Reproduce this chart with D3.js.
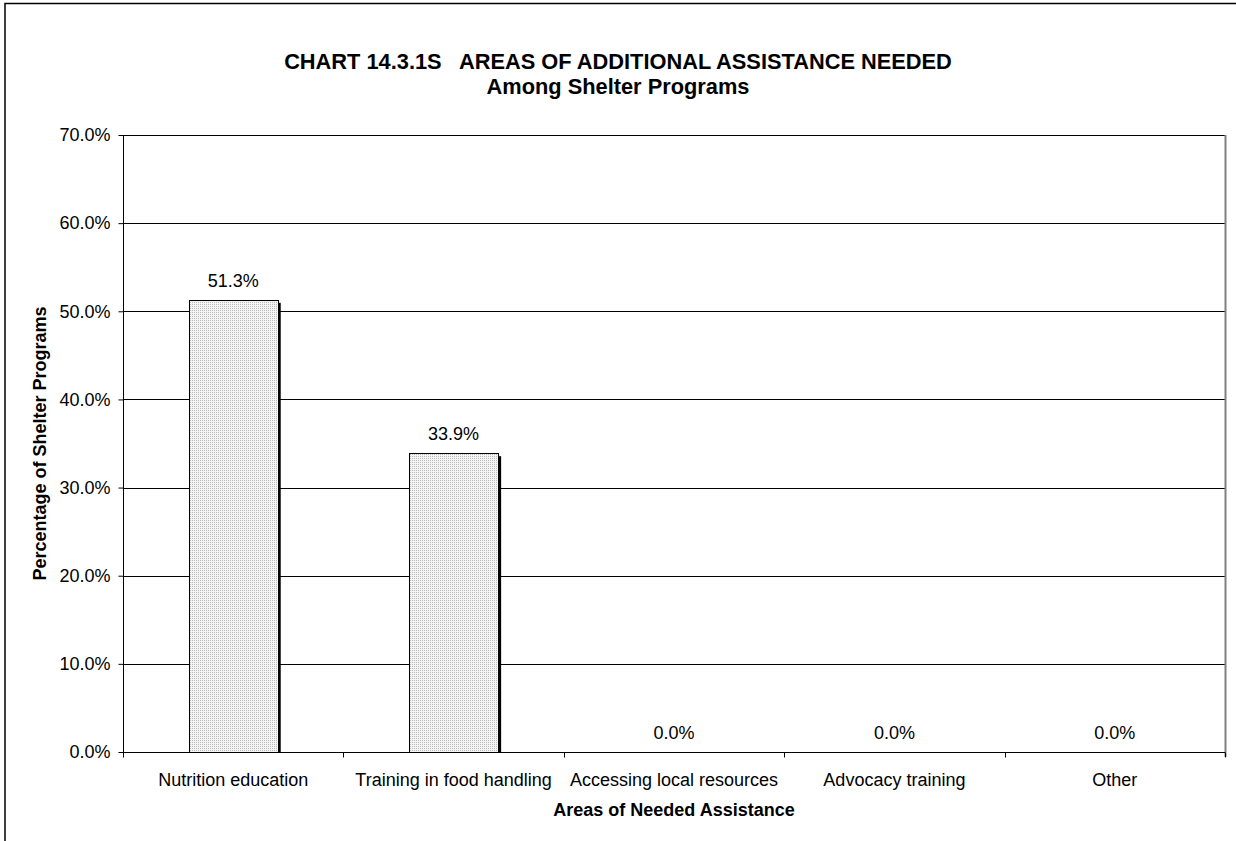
<!DOCTYPE html>
<html>
<head>
<meta charset="utf-8">
<script src="https://cdn.jsdelivr.net/npm/d3@7"></script>
<style>
  html, body { margin: 0; padding: 0; background: #fff; overflow: hidden; }
  svg { display: block; font-family: "Liberation Sans", Arial, sans-serif; }
</style>
</head>
<body>
<svg id="chart" width="1236" height="841"></svg>
<script>
const titleLines = ["CHART 14.3.1S   AREAS OF ADDITIONAL ASSISTANCE NEEDED", "Among Shelter Programs"];
const categories = ["Nutrition education", "Training in food handling", "Accessing local resources", "Advocacy training", "Other"];
const values = [51.3, 33.9, 0.0, 0.0, 0.0];
const yTicks = [0, 10, 20, 30, 40, 50, 60, 70];
const yAxisTitle = "Percentage of Shelter Programs";
const xAxisTitle = "Areas of Needed Assistance";

const svg = d3.select("#chart");
const plot = { left: 123, top: 135, right: 1225, bottom: 752 };

// pattern fill
const defs = svg.append("defs");
const pat = defs.append("pattern").attr("id", "dots")
  .attr("width", 2).attr("height", 2).attr("patternUnits", "userSpaceOnUse");
pat.append("rect").attr("width", 2).attr("height", 2).attr("fill", "#f4f4f4");
pat.append("rect").attr("width", 1).attr("height", 1).attr("fill", "#bcbcbc");

// outer frame (extends beyond the viewport)
svg.append("rect").attr("x", 5).attr("y", 3.5).attr("width", 1400).attr("height", 1000)
  .attr("fill", "none").attr("stroke", "#000").attr("stroke-width", 1.5);

const x = d3.scaleBand().domain(categories).range([plot.left, plot.right]).paddingInner(0).paddingOuter(0);
const y = d3.scaleLinear().domain([0, 70]).range([plot.bottom, plot.top]);

// gridlines
svg.append("g").selectAll("line").data(yTicks.filter(d => d > 0)).join("line")
  .attr("x1", plot.left).attr("x2", plot.right)
  .attr("y1", d => Math.round(y(d)) + 0.5).attr("y2", d => Math.round(y(d)) + 0.5)
  .attr("stroke", "#000").attr("stroke-width", 1);

// right plot border
svg.append("line").attr("x1", plot.right + 0.5).attr("x2", plot.right + 0.5)
  .attr("y1", plot.top).attr("y2", plot.bottom + 5)
  .attr("stroke", "#808080").attr("stroke-width", 2);

// bars
const bw = x.bandwidth() * 0.404;
const bars = svg.append("g");
bars.selectAll("rect.shadow").data(values).join("rect").attr("class", "shadow")
  .attr("x", (d, i) => x(categories[i]) + (x.bandwidth() - bw) / 2 + 3)
  .attr("y", d => y(d) + 3)
  .attr("width", bw).attr("height", d => Math.max(0, plot.bottom - y(d) - 3))
  .attr("fill", d => d > 0 ? "#000" : "none");
bars.selectAll("rect.bar").data(values).join("rect").attr("class", "bar")
  .attr("x", (d, i) => Math.round(x(categories[i]) + (x.bandwidth() - bw) / 2) + 0.5)
  .attr("y", d => Math.round(y(d)) + 0.5)
  .attr("width", bw).attr("height", d => plot.bottom - Math.round(y(d)))
  .attr("fill", "url(#dots)").attr("stroke", d => d > 0 ? "#000" : "none").attr("stroke-width", 1);

// data labels
svg.append("g").selectAll("text").data(values).join("text")
  .attr("x", (d, i) => x(categories[i]) + x.bandwidth() / 2)
  .attr("y", d => y(d) - 13)
  .attr("text-anchor", "middle").attr("font-size", 18).attr("fill", "#000")
  .text(d => d.toFixed(1) + "%");

// y axis
const yAxis = d3.axisLeft(y).tickValues(yTicks).tickSize(5).tickPadding(8)
  .tickFormat(d => d.toFixed(1) + "%");
const gy = svg.append("g").attr("transform", `translate(${plot.left + 0.5},0)`).call(yAxis);
gy.select(".domain").attr("stroke", "#000").attr("d", `M0,${plot.top}V${plot.bottom}`);
gy.selectAll(".tick line").attr("stroke", "#000");
gy.selectAll(".tick text").attr("font-size", 18).attr("font-family", "Liberation Sans, Arial, sans-serif").attr("fill", "#000");

// x axis
const gx = svg.append("g").attr("transform", `translate(0,${plot.bottom + 0.5})`);
gx.append("line").attr("x1", plot.left).attr("x2", plot.right).attr("stroke", "#000");
const bounds = categories.map(c => x(c)).concat([plot.right]);
gx.selectAll("line.tk").data(bounds).join("line").attr("class", "tk")
  .attr("x1", d => Math.round(d) + 0.5).attr("x2", d => Math.round(d) + 0.5)
  .attr("y1", 0).attr("y2", 5).attr("stroke", "#000");
gx.selectAll("text").data(categories).join("text")
  .attr("x", d => x(d) + x.bandwidth() / 2).attr("y", 33)
  .attr("text-anchor", "middle").attr("font-size", 18).attr("fill", "#000")
  .text(d => d);

// titles
svg.append("g").selectAll("text").data(titleLines).join("text")
  .attr("x", 618).attr("y", (d, i) => 69 + i * 25)
  .attr("text-anchor", "middle").attr("font-size", 21.8).attr("font-weight", "bold")
  .style("white-space", "pre").attr("fill", "#000")
  .text(d => d);

svg.append("text").attr("x", (plot.left + plot.right) / 2).attr("y", 816)
  .attr("text-anchor", "middle").attr("font-size", 18).attr("font-weight", "bold")
  .text(xAxisTitle);

svg.append("text").attr("transform", `translate(46,${(plot.top + plot.bottom) / 2}) rotate(-90)`)
  .attr("text-anchor", "middle").attr("font-size", 18).attr("font-weight", "bold")
  .text(yAxisTitle);
</script>
</body>
</html>
